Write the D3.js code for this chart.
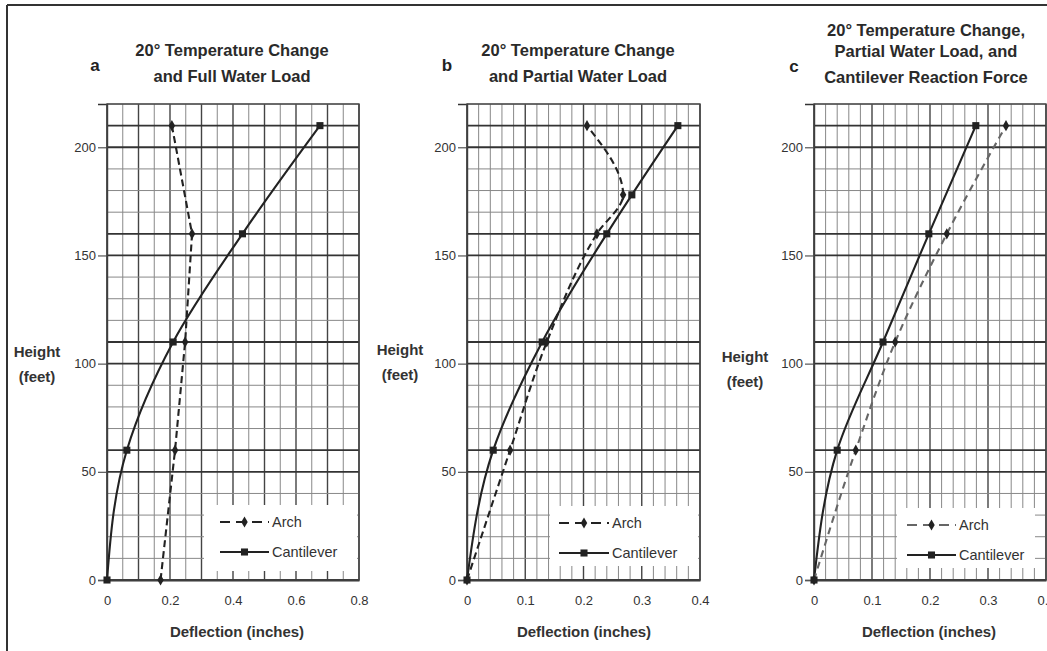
<!DOCTYPE html>
<html>
<head>
<meta charset="utf-8">
<script src="https://cdn.jsdelivr.net/npm/d3@7"></script>
<style>
  html, body { margin: 0; padding: 0; background: #fff; }
  svg { display: block; font-family: "Liberation Sans", Arial, sans-serif; }
</style>
</head>
<body>
<svg id="chart" width="1047" height="651"></svg>
<script>
// ---- Data ----
const heightsA = [0, 60, 110, 160, 210];
const archA    = [0.17, 0.216, 0.248, 0.27, 0.206];
const cantA    = [0, 0.063, 0.21, 0.43, 0.676];

const heightsB = [0, 60, 110, 160, 178, 210];
const archB    = [0, 0.074, 0.137, 0.223, 0.268, 0.206];
const cantB    = [0, 0.045, 0.129, 0.24, 0.283, 0.362];

const heightsC = [0, 60, 110, 160, 210];
const archC    = [0, 0.072, 0.14, 0.229, 0.331];
const cantC    = [0, 0.04, 0.119, 0.198, 0.279];

const yTicks  = [0, 50, 100, 150, 200];
const xTicksA = [0, 0.2, 0.4, 0.6, 0.8];
const xTicksBC = [0, 0.1, 0.2, 0.3, 0.4];
const xTickLabelsA = ["0", "0.2", "0.4", "0.6", "0.8"];
const xTickLabelsBC = ["0", "0.1", "0.2", "0.3", "0.4"];

const titlesA = ["20° Temperature Change", "and Full Water Load"];
const titlesB = ["20° Temperature Change", "and Partial Water Load"];
const titlesC = ["20° Temperature Change,", "Partial Water Load, and", "Cantilever Reaction Force"];
const seriesNames = ["Arch", "Cantilever"];

// ---- Layout ----
const svg = d3.select("#chart");
const ink = "#222";

// frame
svg.append("line").attr("x1", 7).attr("y1", 5).attr("x2", 1047).attr("y2", 5)
  .attr("stroke", "#333").attr("stroke-width", 2);
svg.append("line").attr("x1", 7).attr("y1", 5).attr("x2", 7).attr("y2", 651)
  .attr("stroke", "#333").attr("stroke-width", 2);

const panels = [
  { letter: "a", heights: heightsA, arch: archA, cant: cantA, xMax: 0.8, xr: [107, 359], xTicks: xTicksA, xLabels: xTickLabelsA,
    gridStep: 0.05, heavyStep: 0.1, titles: titlesA, titleX: 232, titleY: [56, 82], letterX: 95, letterY: 71,
    ylabX: 37, ylabY: [357, 382], xlabX: 237, legend: { x: 204, y: 505, w: 153, h: 66, sx: 220, tx: 272 }, archColor: ink, archDash: "7,4", archCurve: d3.curveLinear },
  { letter: "b", heights: heightsB, arch: archB, cant: cantB, xMax: 0.4, xr: [467, 700], xTicks: xTicksBC, xLabels: xTickLabelsBC,
    gridStep: 0.02, heavyStep: 0.1, titles: titlesB, titleX: 578, titleY: [56, 82], letterX: 447, letterY: 71,
    ylabX: 400, ylabY: [355, 380], xlabX: 584, legend: { x: 550, y: 506, w: 148, h: 60, sx: 559, tx: 612 }, archColor: ink, archDash: "7,4", archCurve: d3.curveMonotoneY },
  { letter: "c", heights: heightsC, arch: archC, cant: cantC, xMax: 0.4, xr: [814, 1046], xTicks: xTicksBC, xLabels: xTickLabelsBC,
    gridStep: 0.02, heavyStep: 0.1, titles: titlesC, titleX: 926, titleY: [36, 57, 83], letterX: 794, letterY: 72,
    ylabX: 745, ylabY: [362, 387], xlabX: 929, legend: { x: 897, y: 508, w: 138, h: 60, sx: 907, tx: 959 }, archColor: "#666", archDash: "7,5", archCurve: d3.curveMonotoneY }
];

const yTop = 104, yBot = 580;

panels.forEach(p => {
  const g = svg.append("g");
  const x = d3.scaleLinear().domain([0, p.xMax]).range(p.xr);
  const y = d3.scaleLinear().domain([0, 220]).range([yBot, yTop]);
  const isHeavy = d => Math.abs(d / p.heavyStep - Math.round(d / p.heavyStep)) < 1e-6;

  // grid: vertical
  const nV = Math.round(p.xMax / p.gridStep);
  const vVals = d3.range(0, nV + 1).map(i => i * p.gridStep);
  g.selectAll(".vg").data(vVals).join("line")
    .attr("x1", d => x(d)).attr("x2", d => x(d))
    .attr("y1", yTop).attr("y2", yBot)
    .attr("stroke", d => isHeavy(d) ? "#444" : "#888")
    .attr("stroke-width", d => isHeavy(d) ? 1.4 : 1);

  // grid: horizontal every 10 ft
  const hVals = d3.range(0, 23).map(i => i * 10);
  const heavyH = new Set([0, 50, 100, 150, 200].concat(p.heights));
  g.selectAll(".hg").data(hVals).join("line")
    .attr("x1", p.xr[0]).attr("x2", p.xr[1])
    .attr("y1", d => y(d)).attr("y2", d => y(d))
    .attr("stroke", d => heavyH.has(d) ? "#333" : "#888")
    .attr("stroke-width", d => heavyH.has(d) ? 1.8 : 1);

  // axes (ticks + labels)
  const yAxis = d3.axisLeft(y).tickValues(yTicks).tickSize(9).tickPadding(2).tickFormat(d3.format("d"));
  const ya = g.append("g").attr("transform", `translate(${p.xr[0]},0)`).call(yAxis);
  ya.select(".domain").attr("stroke", "#333").attr("stroke-width", 1.4);
  ya.selectAll(".tick line").attr("stroke", "#555").attr("stroke-width", 1.2);
  ya.selectAll(".tick text").attr("font-size", 13).attr("fill", "#333").attr("font-family", "Liberation Sans, Arial, sans-serif");

  const xAxis = d3.axisBottom(x).tickValues(p.xTicks).tickSize(0).tickPadding(16)
    .tickFormat((d, i) => p.xLabels[i]);
  const xa = g.append("g").attr("transform", `translate(0,${yBot})`).call(xAxis);
  xa.select(".domain").attr("stroke", "#333").attr("stroke-width", 1.8);
  xa.selectAll(".tick text").attr("font-size", 13).attr("fill", "#333").attr("font-family", "Liberation Sans, Arial, sans-serif");

  // plot border
  g.append("rect").attr("x", p.xr[0]).attr("y", yTop)
    .attr("width", p.xr[1] - p.xr[0]).attr("height", yBot - yTop)
    .attr("fill", "none").attr("stroke", "#444").attr("stroke-width", 1.4);

  // legend background (covers grid)
  const L = p.legend;
  g.append("rect").attr("x", L.x).attr("y", L.y).attr("width", L.w).attr("height", L.h)
    .attr("fill", "#fff");

  // series lines
  const archPts = p.heights.map((h, i) => [p.arch[i], h]);
  const cantPts = p.heights.map((h, i) => [p.cant[i], h]);
  const lineC = d3.line().x(d => x(d[0])).y(d => y(d[1])).curve(d3.curveMonotoneY);
  const lineA = d3.line().x(d => x(d[0])).y(d => y(d[1])).curve(p.archCurve);

  g.append("path").attr("d", lineC(cantPts)).attr("fill", "none")
    .attr("stroke", ink).attr("stroke-width", 2.1);
  g.append("path").attr("d", lineA(archPts)).attr("fill", "none")
    .attr("stroke", p.archColor).attr("stroke-width", 2.1).attr("stroke-dasharray", p.archDash);

  const sq = d3.symbol().type(d3.symbolSquare).size(50);
  const dm = d3.symbol().type(d3.symbolDiamond).size(36);
  g.selectAll(".cm").data(cantPts).join("path")
    .attr("d", sq).attr("transform", d => `translate(${x(d[0])},${y(d[1])})`).attr("fill", ink);
  g.selectAll(".am").data(archPts).join("path")
    .attr("d", dm).attr("transform", d => `translate(${x(d[0])},${y(d[1])})`).attr("fill", ink);

  // legend entries
  const rowY = [L.y + 17, L.y + 47];
  const sw = L.tx - L.sx - 3;
  g.append("line").attr("x1", L.sx).attr("x2", L.sx + sw).attr("y1", rowY[0]).attr("y2", rowY[0])
    .attr("stroke", p.archColor).attr("stroke-width", 2.1).attr("stroke-dasharray", "10,6");
  g.append("path").attr("d", dm).attr("transform", `translate(${L.sx + sw / 2},${rowY[0]})`).attr("fill", ink);
  g.append("line").attr("x1", L.sx).attr("x2", L.sx + sw).attr("y1", rowY[1]).attr("y2", rowY[1])
    .attr("stroke", ink).attr("stroke-width", 2.1);
  g.append("path").attr("d", sq).attr("transform", `translate(${L.sx + sw / 2},${rowY[1]})`).attr("fill", ink);
  g.selectAll(".lt").data(seriesNames).join("text")
    .attr("x", L.tx).attr("y", (d, i) => rowY[i] + 5)
    .attr("font-size", 14.5).attr("fill", "#333").text(d => d);

  // titles
  g.selectAll(".tt").data(p.titles).join("text")
    .attr("x", p.titleX).attr("y", (d, i) => p.titleY[i])
    .attr("text-anchor", "middle").attr("font-size", 16.5).attr("font-weight", "bold")
    .attr("fill", "#2a2a2a").text(d => d);
  g.append("text").attr("x", p.letterX).attr("y", p.letterY).attr("text-anchor", "middle")
    .attr("font-size", 17).attr("font-weight", "bold").attr("fill", ink).text(p.letter);

  // axis titles
  g.selectAll(".yl").data(["Height", "(feet)"]).join("text")
    .attr("x", p.ylabX).attr("y", (d, i) => p.ylabY[i])
    .attr("text-anchor", "middle").attr("font-size", 15).attr("font-weight", "bold")
    .attr("fill", "#333").text(d => d);
  g.append("text").attr("x", p.xlabX).attr("y", 637).attr("text-anchor", "middle")
    .attr("font-size", 15).attr("font-weight", "bold").attr("fill", "#333").text("Deflection (inches)");
});
</script>
</body>
</html>
